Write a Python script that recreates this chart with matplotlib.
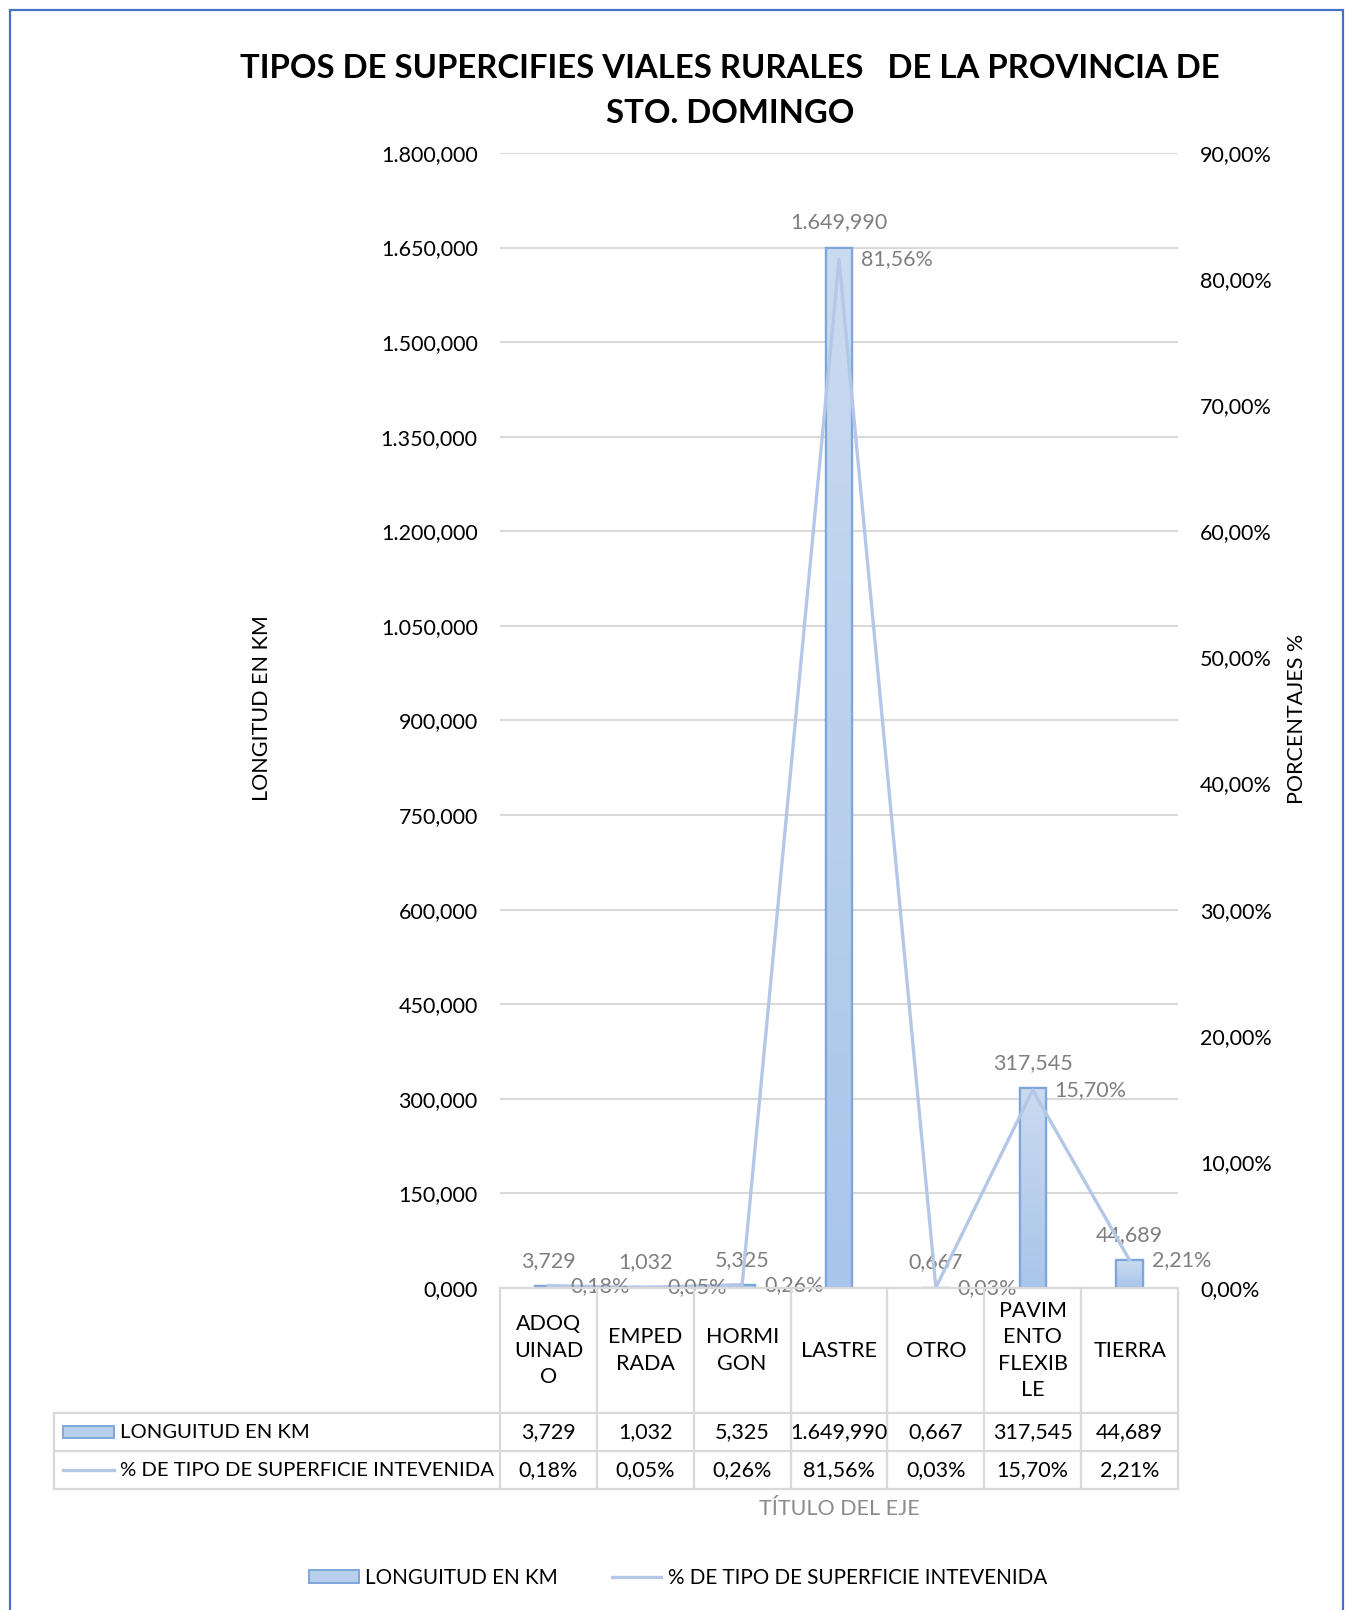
import matplotlib
matplotlib.use("Agg")
import matplotlib.pyplot as plt
import numpy as np
from matplotlib.patches import Rectangle
from matplotlib.lines import Line2D
from matplotlib.colors import LinearSegmentedColormap
import matplotlib.transforms as mtransforms

plt.rcParams['font.family'] = ['Lato', 'DejaVu Sans']

# ---------------- data ----------------
categories = ["ADOQUINADO", "EMPEDRADA", "HORMIGON", "LASTRE", "OTRO",
              "PAVIMENTO FLEXIBLE", "TIERRA"]
category_labels = ["ADOQ\nUINAD\nO", "EMPED\nRADA", "HORMI\nGON", "LASTRE",
                   "OTRO", "PAVIM\nENTO\nFLEXIB\nLE", "TIERRA"]
longitud_km = [3.729, 1.032, 5.325, 1649.990, 0.667, 317.545, 44.689]
porcentaje = [0.18, 0.05, 0.26, 81.56, 0.03, 15.70, 2.21]
left_ticks = [0, 150, 300, 450, 600, 750, 900, 1050, 1200, 1350, 1500, 1650, 1800]
right_ticks = [0, 10, 20, 30, 40, 50, 60, 70, 80, 90]

title = "TIPOS DE SUPERCIFIES VIALES RURALES   DE LA PROVINCIA DE\nSTO. DOMINGO"
series1_name = "LONGUITUD EN KM"
series2_name = "% DE TIPO DE SUPERFICIE INTEVENIDA"


def fmt_num(v, dec=3):
    s = f"{v:,.{dec}f}"
    return s.replace(",", "X").replace(".", ",").replace("X", ".")


def fmt_pct(v):
    return fmt_num(v, 2) + "%"


# ---------------- figure ----------------
W, H = 1346, 1610
fig = plt.figure(figsize=(W / 100, H / 100), dpi=100)

def fx(px):
    return px / W

def fy(py):
    return 1 - py / H

ax_l, ax_r, ax_t, ax_b = 500, 1178, 153, 1288
ax = fig.add_axes([fx(ax_l), fy(ax_b), fx(ax_r - ax_l), fy(ax_t) - fy(ax_b)])
ax2 = ax.twinx()

TEXT = "#000000"
GRAY = "#7f7f7f"
GRID = "#d9d9d9"
LINEC = "#b4c7e7"
BAREDGE = "#7fa6db"
FS = 15.5
FS_HDR = 14.6

x = np.arange(len(categories))
bw = 0.27
bars = ax.bar(x, longitud_km, width=bw, color="#b8cfec", edgecolor=BAREDGE,
              linewidth=1.6, zorder=2)

# gradient fill
cmap = LinearSegmentedColormap.from_list("g", ["#a9c5ea", "#cbdbf0"])
grad = np.linspace(0, 1, 256).reshape(-1, 1)
for b in bars:
    bx, by = b.get_x(), b.get_y()
    w, h = b.get_width(), b.get_height()
    im = ax.imshow(grad, cmap=cmap, origin="lower", aspect="auto",
                   extent=[bx, bx + w, by, by + h], zorder=2.1)
    im.set_clip_path(b)
    edge = Rectangle((bx, by), w, h, facecolor="none", edgecolor=BAREDGE,
                     linewidth=1.6, zorder=2.2)
    ax.add_patch(edge)

ax.set_xlim(-0.5, len(categories) - 0.5)
ax.set_ylim(0, 1800)
ax.set_yticks(left_ticks)
ax.set_yticklabels([fmt_num(t) for t in left_ticks], fontsize=FS, color=TEXT)
ax.set_xticks([])
ax.grid(axis="y", color=GRID, linewidth=1.5, zorder=0)
ax.set_axisbelow(True)
ax.tick_params(axis="y", length=0, pad=16)
for s in ax.spines.values():
    s.set_visible(False)

ax2.plot(x, porcentaje, color=LINEC, linewidth=2.4, zorder=5)
ax2.set_ylim(0, 90)
ax2.set_yticks(right_ticks)
ax2.set_yticklabels([fmt_pct(t) for t in right_ticks], fontsize=FS, color=TEXT)
ax2.tick_params(axis="y", length=0, pad=16)
for s in ax2.spines.values():
    s.set_visible(False)

# data labels
for xi, v in zip(x, longitud_km):
    ax.annotate(fmt_num(v), (xi, v), xytext=(0, 25), textcoords="offset pixels",
                ha="center", va="center", fontsize=FS, color=GRAY, zorder=6)
for xi, p in zip(x, porcentaje):
    ax2.annotate(fmt_pct(p), (xi, p), xytext=(22, 0), textcoords="offset pixels",
                 ha="left", va="center", fontsize=FS, color=GRAY, zorder=6)

# title and axis titles
fig.text(fx(730), fy(91), title, ha="center", va="center", fontsize=23.7,
         fontweight="bold", color=TEXT, linespacing=1.65)
fig.text(fx(262), fy(708), "LONGITUD EN KM", rotation=90, ha="center",
         va="center", fontsize=FS, color=TEXT)
fig.text(fx(1297), fy(719), "PORCENTAJES %", rotation=90, ha="center",
         va="center", fontsize=FS, color=TEXT)
fig.text(fx(839), fy(1509), "TÍTULO DEL EJE", ha="center", va="center",
         fontsize=FS, color="#8c8c8c")

# ---------------- data table ----------------
row_y = [1288, 1413, 1451, 1489]
tr = mtransforms.blended_transform_factory(ax.transData, fig.transFigure)
tlw = 1.6

def hline(y, x0, x1):
    fig.add_artist(Line2D([fx(x0), fx(x1)], [fy(y), fy(y)], color=GRID,
                          lw=tlw, transform=fig.transFigure))

def vline(xx, y0, y1, trans=None):
    if trans is None:
        fig.add_artist(Line2D([fx(xx), fx(xx)], [fy(y0), fy(y1)], color=GRID,
                              lw=tlw, transform=fig.transFigure))
    else:
        fig.add_artist(Line2D([xx, xx], [fy(y0), fy(y1)], color=GRID,
                              lw=tlw, transform=trans))

tbl_left = 54
hline(row_y[0], ax_l, ax_r)
for yy in row_y[1:]:
    hline(yy, tbl_left, ax_r)
vline(tbl_left, row_y[1], row_y[3])
for k in range(len(categories) + 1):
    vline(k - 0.5, row_y[0], row_y[3], trans=tr)

cy0 = (row_y[0] + row_y[1]) / 2
cy1 = (row_y[1] + row_y[2]) / 2
cy2 = (row_y[2] + row_y[3]) / 2
for xi, lab, v, p in zip(x, category_labels, longitud_km, porcentaje):
    fig.text(xi, fy(cy0), lab, transform=tr, ha="center", va="center",
             fontsize=FS, color=TEXT, linespacing=1.4)
    fig.text(xi, fy(cy1), fmt_num(v), transform=tr, ha="center", va="center",
             fontsize=FS, color=TEXT)
    fig.text(xi, fy(cy2), fmt_pct(p), transform=tr, ha="center", va="center",
             fontsize=FS, color=TEXT)

# row headers with legend keys
fig.add_artist(Rectangle((fx(63), fy(cy1 + 6)), fx(51), fy(cy1 - 6) - fy(cy1 + 6),
                         facecolor="#b8cfec", edgecolor=BAREDGE, lw=1.4,
                         transform=fig.transFigure))
fig.text(fx(120), fy(cy1), series1_name, ha="left", va="center", fontsize=FS_HDR,
         color=TEXT)
fig.add_artist(Line2D([fx(63), fx(114)], [fy(cy2), fy(cy2)], color=LINEC,
                      lw=2.4, transform=fig.transFigure))
fig.text(fx(120), fy(cy2), series2_name, ha="left", va="center", fontsize=FS_HDR,
         color=TEXT)

# ---------------- legend ----------------
handles = [Rectangle((0, 0), 1, 1, facecolor="#b8cfec", edgecolor=BAREDGE, lw=1.4),
           Line2D([0], [0], color=LINEC, lw=2.4)]
fig.legend(handles, [series1_name, series2_name], loc="center",
           bbox_to_anchor=(fx(678), fy(1578)), ncol=2, frameon=False,
           fontsize=FS_HDR + 0.3, handlelength=2.4, handleheight=0.6,
           handletextpad=0.3, columnspacing=2.6)

# outer border
fig.add_artist(Rectangle((fx(10), -0.01), fx(1333), fy(10) + 0.01,
                         facecolor="none", edgecolor="#4472c4", lw=1.6,
                         transform=fig.transFigure))

fig.savefig("out.png", dpi=100, facecolor="white")
